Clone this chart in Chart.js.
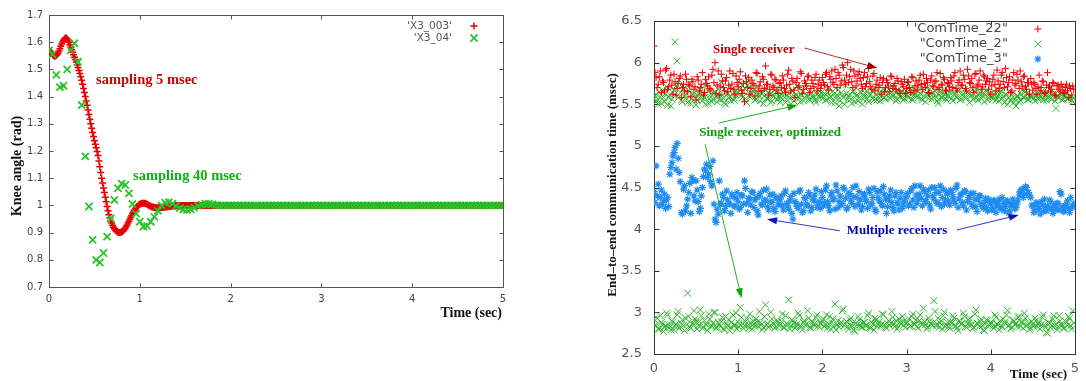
<!DOCTYPE html>
<html><head><meta charset="utf-8">
<script src="https://cdn.jsdelivr.net/npm/chart.js@4.4.1/dist/chart.umd.min.js"></script>
<style>
html,body{margin:0;padding:0;background:#fff;}
#wrap{position:relative;width:1086px;height:381px;overflow:hidden;background:#fff;}
canvas{position:absolute;top:0;}
</style>
</head><body>
<div id="wrap">
<canvas id="knee" width="540" height="330" style="left:0"></canvas>
<canvas id="comm" width="496" height="381" style="left:590px"></canvas>
</div>
<script>
// ---------------- LEFT CHART DATA (knee angle, rad) ----------------
const kneeXTicks = [0, 1, 2, 3, 4, 5];
const kneeYTicks = [0.7, 0.8, 0.9, 1, 1.1, 1.2, 1.3, 1.4, 1.5, 1.6, 1.7];
const kneeRedPeriod = 0.01;   // seconds between plotted red samples
const kneeGreenPeriod = 0.04; // 40 msec sampling
const kneeRedLabel = "'X3_003'";
const kneeGreenLabel = "'X3_04'";
const kneeRed = [
1.570,1.566,1.562,1.558,1.554,1.551,1.549,1.549,1.551,1.555,
1.560,1.568,1.576,1.585,1.593,1.601,1.607,1.612,1.615,1.615,
1.612,1.607,1.600,1.591,1.582,1.572,1.563,1.554,1.545,1.536,
1.527,1.517,1.507,1.496,1.485,1.473,1.460,1.445,1.430,1.415,
1.400,1.384,1.368,1.351,1.334,1.317,1.300,1.284,1.268,1.253,
1.238,1.225,1.212,1.198,1.183,1.163,1.142,1.121,1.100,1.082,
1.064,1.047,1.030,1.013,0.996,0.980,0.966,0.954,0.944,0.935,
0.927,0.920,0.914,0.910,0.906,0.903,0.901,0.900,0.900,0.901,
0.902,0.904,0.907,0.911,0.916,0.922,0.928,0.935,0.942,0.949,
0.956,0.963,0.970,0.976,0.982,0.987,0.992,0.996,0.999,1.002,
1.004,1.006,1.007,1.008,1.008,1.008,1.007,1.006,1.004,1.002,
1.000,0.998,0.997,0.995,0.994,0.993,0.992,0.991,0.991,0.991,
0.991,0.991,0.991,0.991,0.992,0.992,0.993,0.993,0.994,0.994,
0.995,0.995,0.996,0.996,0.997,0.997,0.998,0.998,0.998,0.999,
0.999,0.999,0.999,0.999,1.000,1.000,1.000,1.000,1.000,1.000,
1.000,
1,1,1,1,1,1,1,1,1,1, 1,1,1,1,1,1,1,1,1,1, 1,1,1,1,1,1,1,1,1,1,
1,1,1,1,1,1,1,1,1,1, 1,1,1,1,1,1,1,1,1,1, 1,1,1,1,1,1,1,1,1,1,
1,1,1,1,1,1,1,1,1,1, 1,1,1,1,1,1,1,1,1,1, 1,1,1,1,1,1,1,1,1,1,
1,1,1,1,1,1,1,1,1,1, 1,1,1,1,1,1,1,1,1,1, 1,1,1,1,1,1,1,1,1,1,
1,1,1,1,1,1,1,1,1,1, 1,1,1,1,1,1,1,1,1,1, 1,1,1,1,1,1,1,1,1,1,
1,1,1,1,1,1,1,1,1,1, 1,1,1,1,1,1,1,1,1,1, 1,1,1,1,1,1,1,1,1,1,
1,1,1,1,1,1,1,1,1,1, 1,1,1,1,1,1,1,1,1,1, 1,1,1,1,1,1,1,1,1,1,
1,1,1,1,1,1,1,1,1,1, 1,1,1,1,1,1,1,1,1,1, 1,1,1,1,1,1,1,1,1,1,
1,1,1,1,1,1,1,1,1,1, 1,1,1,1,1,1,1,1,1,1, 1,1,1,1,1,1,1,1,1,1,
1,1,1,1,1,1,1,1,1,1, 1,1,1,1,1,1,1,1,1,1, 1,1,1,1,1,1,1,1,1,1,
1,1,1,1,1,1,1,1,1,1, 1,1,1,1,1,1,1,1,1,1, 1,1,1,1,1,1,1,1,1,1,
1,1,1,1,1,1,1,1,1,1, 1,1,1,1,1,1,1,1,1,1
];
const kneeGreen = [
1.570,1.555,1.480,1.435,1.440,1.500,1.570,1.596,1.528,1.369,
1.180,0.996,0.873,0.800,0.790,0.825,0.885,0.952,1.020,1.063,
1.080,1.075,1.044,1.005,0.970,0.940,0.922,0.924,0.940,0.958,
0.980,1.000,1.010,1.012,1.006,0.998,0.990,0.985,0.984,0.986,
0.992,0.998,1.003,1.006,1.006,1.004,1.001,
1,1,1,1,1,1,1,1,1,1, 1,1,1,1,1,1,1,1,1,1, 1,1,1,1,1,1,1,1,1,1,
1,1,1,1,1,1,1,1,1,1, 1,1,1,1,1,1,1,1,1,1, 1,1,1,1,1,1,1,1,1,1,
1,1,1,1,1,1,1,1,1,1, 1,1,1,1,1,1,1,1,1
];

// ---------------- RIGHT CHART DATA (communication time, msec) ----------------
const commXTicks = [0, 1, 2, 3, 4, 5];
const commYTicks = [2.5, 3, 3.5, 4, 4.5, 5, 5.5, 6, 6.5];
const commPeriod = 0.025;      // spacing of each sample run
const commOffsetB = 0.0125;    // second run of samples, in between
const commLabels = ["'ComTime_22\"", "\"ComTime_2\"", "\"ComTime_3\""];
const comTime22 = [
6.20,5.82,5.74,5.90,5.78,5.66,5.93,5.71,5.85,5.62,5.77,5.69,5.81,5.58,5.74,5.86,5.65,5.72,5.80,5.68,
5.55,5.79,5.70,5.88,5.64,5.75,5.83,5.67,5.92,6.00,5.73,5.61,5.86,5.70,5.78,5.65,5.90,5.74,5.68,5.84,
5.71,5.89,5.63,5.53,5.77,5.82,5.69,5.75,5.60,5.87,5.72,5.66,5.80,5.96,5.74,5.68,5.85,5.70,5.79,5.63,
5.76,5.84,5.69,5.73,5.91,5.66,5.78,5.58,5.81,5.72,5.87,5.68,5.75,5.83,5.64,5.79,5.71,5.86,5.74,5.69,
5.82,5.73,5.88,5.67,5.80,5.76,5.92,5.70,5.85,5.78,5.94,5.74,6.00,5.83,5.77,5.90,5.72,5.86,5.81,5.69,
5.88,5.75,5.93,5.71,5.84,5.66,5.79,5.73,5.62,5.81,5.70,5.76,5.65,5.83,5.72,5.68,5.78,5.63,5.74,5.80,
5.69,5.77,5.64,5.82,5.72,5.67,5.79,5.74,5.86,5.70,5.76,5.63,5.84,5.71,5.78,5.68,5.87,5.73,5.80,5.66,
5.75,5.82,5.70,5.88,5.66,5.79,5.73,5.85,5.69,5.92,5.76,5.81,5.64,5.87,5.74,5.90,5.71,5.83,5.78,5.68,
5.62,5.80,5.74,5.91,5.69,5.85,5.77,5.93,5.71,5.83,5.66,5.88,5.75,5.79,5.90,5.72,5.84,5.68,5.76,5.81,
5.67,5.74,5.62,5.85,5.70,5.77,5.64,5.88,5.72,5.68,5.75,5.60,5.73,5.66,5.71,5.63,5.74,5.58,5.69,5.72
];
const comTime22B = [
5.88,5.70,5.83,5.64,5.76,5.91,5.68,5.79,5.73,5.86,5.61,5.75,5.84,5.70,5.66,5.80,5.74,5.59,5.77,5.71,
5.83,5.66,5.74,5.61,5.80,5.72,5.69,5.85,5.76,5.63,5.90,5.71,5.78,5.66,5.82,5.73,5.69,5.87,5.62,5.76,
5.80,5.67,5.75,5.84,5.70,5.62,5.79,5.73,5.88,5.66,5.77,5.83,5.69,5.74,5.61,5.86,5.72,5.80,5.67,5.75,
5.70,5.79,5.64,5.86,5.74,5.81,5.67,5.76,5.70,5.89,5.63,5.78,5.72,5.84,5.69,5.75,5.82,5.66,5.79,5.73,
5.76,5.86,5.71,5.83,5.90,5.74,5.81,5.88,5.73,5.97,5.79,5.85,5.76,5.92,5.70,5.84,5.78,5.89,5.74,5.82,
5.71,5.83,5.77,5.68,5.87,5.74,5.70,5.82,5.76,5.65,5.79,5.72,5.84,5.69,5.75,5.81,5.66,5.77,5.71,5.63,
5.76,5.70,5.83,5.66,5.78,5.73,5.85,5.68,5.75,5.81,5.64,5.79,5.72,5.77,5.88,5.70,5.74,5.82,5.67,5.76,
5.71,5.78,5.84,5.69,5.76,5.90,5.73,5.80,5.66,5.84,5.75,5.70,5.86,5.72,5.79,5.68,5.85,5.74,5.81,5.77,
5.72,5.85,5.66,5.78,5.74,5.88,5.70,5.82,5.76,5.64,5.79,5.73,5.86,5.69,5.77,5.83,5.71,5.76,5.62,5.74,
5.76,5.69,5.71,5.66,5.78,5.63,5.73,5.70,5.65,5.76,5.61,5.72,5.68,5.74,5.64,5.70,5.66,5.72,5.61,5.68
];
const comTime2Upper = [
5.56,5.62,5.50,5.59,5.66,5.53,5.71,5.58,5.48,5.64,6.25,6.02,5.79,5.55,5.69,5.61,5.52,5.74,5.57,5.63,
5.49,5.60,5.67,5.54,5.58,5.72,5.51,5.62,5.56,5.65,5.53,5.60,5.77,5.57,5.50,5.63,5.59,5.68,5.55,5.61,
5.64,5.75,5.58,5.69,5.52,5.78,5.61,5.66,5.55,5.70,5.59,5.63,5.51,5.67,5.57,5.62,5.54,5.60,5.65,5.58,
5.53,5.61,5.68,5.56,5.63,5.50,5.66,5.59,5.72,5.57,5.62,5.54,5.69,5.60,5.55,5.64,5.58,5.52,5.67,5.61,
5.57,5.63,5.55,5.70,5.59,5.66,5.52,5.61,5.48,5.64,5.58,5.73,5.56,5.62,5.51,5.67,5.60,5.54,5.65,5.50,
5.59,5.66,5.53,5.62,5.57,5.70,5.55,5.64,5.60,5.68,5.56,5.63,5.58,5.72,5.61,5.54,5.67,5.59,5.65,5.57,
5.62,5.58,5.69,5.55,5.64,5.60,5.73,5.57,5.66,5.53,5.61,5.68,5.56,5.63,5.59,5.51,5.65,5.58,5.62,5.55,
5.60,5.67,5.54,5.63,5.58,5.70,5.56,5.62,5.59,5.65,5.52,5.61,5.57,5.68,5.55,5.64,5.60,5.53,5.66,5.58,
5.63,5.56,5.61,5.69,5.54,5.66,5.59,5.62,5.50,5.64,5.57,5.52,5.48,5.60,5.55,5.67,5.58,5.63,5.56,5.61,
5.59,5.54,5.62,5.57,5.65,5.55,5.60,5.58,5.63,5.56,5.61,5.45,5.58,5.62,5.55,5.59,5.64,5.57,5.60,5.53
];
const comTime2UpperB = [
5.60,5.54,5.65,5.51,5.58,5.63,5.49,5.61,5.56,5.67,5.72,5.58,5.64,5.53,5.60,5.56,5.66,5.51,5.62,5.58,
5.55,5.64,5.58,5.61,5.50,5.66,5.57,5.53,5.63,5.59,5.68,5.55,5.61,5.52,5.65,5.58,5.54,5.62,5.57,5.64,
5.70,5.61,5.66,5.57,5.73,5.59,5.63,5.68,5.56,5.62,5.54,5.66,5.60,5.57,5.64,5.52,5.61,5.67,5.55,5.60,
5.58,5.64,5.52,5.60,5.57,5.66,5.54,5.62,5.59,5.53,5.65,5.58,5.61,5.56,5.63,5.60,5.55,5.62,5.58,5.64,
5.61,5.55,5.64,5.58,5.52,5.62,5.57,5.67,5.54,5.60,5.50,5.63,5.59,5.56,5.65,5.53,5.61,5.58,5.64,5.56,
5.63,5.57,5.61,5.66,5.55,5.62,5.59,5.54,5.64,5.58,5.61,5.68,5.57,5.60,5.65,5.56,5.62,5.58,5.55,5.63,
5.59,5.65,5.56,5.61,5.67,5.58,5.63,5.55,5.60,5.70,5.57,5.62,5.59,5.66,5.54,5.61,5.58,5.64,5.57,5.60,
5.64,5.57,5.62,5.59,5.66,5.55,5.61,5.68,5.58,5.63,5.60,5.56,5.65,5.59,5.62,5.57,5.64,5.61,5.55,5.62,
5.58,5.62,5.55,5.60,5.64,5.57,5.52,5.61,5.58,5.54,5.63,5.56,5.60,5.53,5.62,5.58,5.65,5.56,5.61,5.59,
5.57,5.61,5.56,5.60,5.58,5.63,5.55,5.59,5.57,5.62,5.54,5.60,5.58,5.64,5.56,5.61,5.57,5.59,5.55,5.58
];
const comTime2Lower = [
2.92,2.84,2.80,2.96,2.86,2.82,2.99,2.85,2.79,2.88,2.83,2.97,2.81,2.87,2.84,2.93,3.23,2.82,2.86,3.02,
2.88,2.84,3.03,2.81,2.90,2.85,2.98,2.83,2.87,3.00,2.82,2.86,2.89,2.80,2.95,2.84,2.78,2.88,2.85,2.99,
2.83,3.06,2.87,2.84,2.93,2.81,2.86,2.90,2.83,2.88,3.01,2.85,2.82,3.09,2.87,2.84,2.92,2.86,2.83,2.89,
2.85,2.98,2.82,2.87,3.15,2.84,2.90,2.81,2.86,2.96,2.83,2.88,2.85,3.02,2.82,2.89,2.86,2.94,2.84,2.87,
2.90,2.83,2.97,2.86,2.80,2.92,3.10,2.85,2.82,2.88,3.04,2.86,2.83,2.91,2.84,2.79,2.87,2.95,2.85,2.82,
2.88,2.84,2.99,2.81,2.86,2.93,2.83,2.89,2.85,2.97,2.82,2.87,2.84,3.01,2.86,2.90,2.83,2.88,2.95,2.85,
2.87,2.92,2.84,2.98,2.86,2.83,2.90,2.88,3.05,2.85,2.82,2.89,2.86,3.14,2.84,2.93,2.87,2.80,3.00,2.85,
2.83,2.88,2.96,2.84,2.81,2.90,2.86,2.99,2.83,2.87,2.93,2.85,2.82,3.03,2.86,2.89,2.84,2.78,2.91,2.85,
2.88,2.83,2.97,2.86,2.79,2.84,2.92,2.87,3.02,2.85,2.82,2.89,2.86,2.94,2.83,2.88,2.99,2.84,2.87,2.81,
2.86,2.93,2.83,2.88,2.85,2.97,2.82,2.75,2.87,2.84,2.96,2.86,2.83,2.90,2.85,2.81,2.88,2.95,2.84,3.02
];
const comTime2LowerB = [
2.85,2.93,2.80,2.88,2.77,2.84,2.97,2.82,2.90,2.79,2.86,3.01,2.83,2.91,2.78,2.85,2.95,2.81,2.87,2.92,
2.80,2.89,2.96,2.82,2.86,2.78,2.92,2.84,3.00,2.81,2.88,2.83,2.94,2.79,2.86,2.91,2.82,2.97,2.85,2.80,
2.87,2.94,2.81,2.89,2.84,2.98,2.80,2.86,2.92,2.83,2.88,2.79,2.95,2.85,2.82,3.00,2.87,2.81,2.90,2.84,
2.89,2.82,2.96,2.85,2.80,2.91,2.87,2.83,2.99,2.84,2.79,2.90,2.86,2.93,2.81,2.88,2.84,2.97,2.82,2.87,
2.92,2.85,2.81,2.95,2.88,2.83,2.79,2.90,2.86,3.02,2.84,2.89,2.80,2.93,2.87,2.77,2.85,2.91,2.82,2.88,
2.84,2.96,2.82,2.88,2.79,2.91,2.86,2.83,2.98,2.85,2.81,2.90,2.87,2.94,2.83,2.80,2.92,2.86,2.89,2.82,
2.88,2.83,2.95,2.86,2.91,2.81,2.97,2.85,2.89,2.80,2.93,2.87,2.84,3.01,2.86,2.82,2.90,2.96,2.83,2.88,
2.81,2.87,2.93,2.84,2.78,2.89,2.86,2.95,2.82,2.91,2.85,2.80,2.98,2.87,2.83,2.92,2.79,2.86,2.90,2.84,
2.87,2.81,2.94,2.85,2.90,2.82,2.88,2.97,2.84,2.80,2.91,2.86,2.83,2.95,2.88,2.81,2.93,2.85,2.79,2.89,
2.83,2.90,2.86,2.80,2.94,2.85,2.76,2.88,2.82,2.92,2.84,2.79,2.96,2.86,2.81,2.89,2.84,2.93,2.80,2.87
];
const comTime3 = [
4.45,4.76,4.54,4.38,4.30,4.42,4.35,4.27,4.74,4.88,4.98,5.03,4.68,4.20,4.48,4.22,4.36,4.55,4.62,4.40,
4.58,4.33,4.25,4.50,4.72,4.78,4.66,4.57,4.82,4.12,4.24,4.58,4.31,4.38,4.27,4.35,4.30,4.42,4.28,4.37,
4.33,4.26,4.40,4.58,4.31,4.37,4.29,4.44,4.35,4.22,4.39,4.30,4.47,4.34,4.27,4.41,4.32,4.25,4.38,4.29,
4.36,4.28,4.43,4.31,4.24,4.39,4.12,4.33,4.27,4.45,4.30,4.22,4.37,4.29,4.41,4.26,4.34,4.48,4.30,4.25,
4.38,4.32,4.52,4.28,4.41,4.35,4.24,4.46,4.33,4.29,4.50,4.37,4.26,4.43,4.31,4.39,4.52,4.30,4.35,4.27,
4.42,4.33,4.48,4.29,4.38,4.24,4.45,4.34,4.31,4.51,4.36,4.27,4.40,4.32,4.22,4.44,4.30,4.37,4.25,4.33,
4.39,4.28,4.46,4.35,4.52,4.31,4.42,4.37,4.48,4.33,4.40,4.29,4.50,4.36,4.44,4.32,4.52,4.38,4.30,4.45,
4.34,4.47,4.39,4.31,4.53,4.36,4.42,4.28,4.45,4.33,4.38,4.30,4.43,4.27,4.35,4.40,4.29,4.32,4.26,4.36,
4.30,4.25,4.33,4.28,4.36,4.24,4.31,4.27,4.34,4.22,4.29,4.32,4.26,4.35,4.45,4.48,4.42,4.50,4.44,4.38,
4.27,4.22,4.30,4.25,4.33,4.21,4.28,4.26,4.35,4.24,4.29,4.23,4.31,4.45,4.27,4.22,4.30,4.25,4.38,4.26
];
const comTime3B = [
4.32,4.40,4.28,4.47,4.34,4.25,4.38,4.66,4.80,4.92,4.72,4.85,4.57,4.18,4.52,4.28,4.44,4.19,4.58,4.34,
4.47,4.21,4.40,4.63,4.70,4.62,4.75,4.52,4.30,4.08,4.18,4.30,4.42,4.22,4.46,4.31,4.19,4.39,4.27,4.44,
4.24,4.41,4.30,4.49,4.20,4.36,4.45,4.26,4.38,4.17,4.43,4.29,4.35,4.48,4.23,4.33,4.42,4.21,4.37,4.31,
4.40,4.23,4.46,4.28,4.34,4.19,4.43,4.31,4.25,4.47,4.20,4.38,4.29,4.44,4.22,4.36,4.41,4.26,4.33,4.45,
4.28,4.47,4.33,4.22,4.44,4.37,4.53,4.26,4.40,4.31,4.48,4.24,4.42,4.35,4.50,4.27,4.38,4.45,4.23,4.41,
4.36,4.25,4.44,4.31,4.49,4.21,4.38,4.46,4.28,4.42,4.19,4.35,4.47,4.26,4.40,4.32,4.23,4.44,4.29,4.37,
4.43,4.30,4.49,4.26,4.41,4.36,4.52,4.28,4.45,4.33,4.47,4.24,4.40,4.50,4.31,4.44,4.27,4.48,4.35,4.42,
4.29,4.44,4.35,4.49,4.26,4.41,4.32,4.46,4.23,4.38,4.43,4.27,4.36,4.21,4.40,4.30,4.25,4.37,4.22,4.33,
4.23,4.35,4.20,4.31,4.26,4.38,4.22,4.33,4.19,4.29,4.36,4.24,4.30,4.41,4.47,4.38,4.51,4.44,4.40,4.29,
4.20,4.32,4.24,4.18,4.29,4.36,4.22,4.27,4.33,4.19,4.26,4.31,4.23,4.42,4.21,4.28,4.34,4.20,4.27,4.31
];

// ---------------- helpers ----------------
function samples(values, period, offset) {
  const o = offset || 0;
  return values.map((v, i) => ({ x: Math.round((o + i * period) * 10000) / 10000, y: v }));
}
function fixedTicks(list) { return scale => { scale.ticks = list.map(v => ({ value: v })); }; }

function markerAt(ctx, style, r, bw, x, y) {
  if (Chart.helpers && Chart.helpers.drawPoint) {
    Chart.helpers.drawPoint(ctx, { pointStyle: style, radius: r, rotation: 0, borderWidth: bw }, x, y);
    return;
  }
  const d = r * Math.SQRT1_2;
  ctx.beginPath();
  if (style === 'cross' || style === 'star') { ctx.moveTo(x - r, y); ctx.lineTo(x + r, y); ctx.moveTo(x, y - r); ctx.lineTo(x, y + r); }
  if (style === 'crossRot' || style === 'star') { ctx.moveTo(x - d, y - d); ctx.lineTo(x + d, y + d); ctx.moveTo(x - d, y + d); ctx.lineTo(x + d, y - d); }
  ctx.stroke();
}

const gnuplotLook = {
  id: 'gnuplotLook',
  beforeDatasetsDraw(chart, args, o) {
    const ctx = chart.ctx, a = chart.chartArea;
    const xs = chart.scales.x, ys = chart.scales.y, k = o.tickLen;
    const L = Math.round(a.left) + 0.5, R = Math.round(a.right) + 0.5;
    const T = Math.round(a.top) + 0.5, B = Math.round(a.bottom) + 0.5;
    ctx.save();
    ctx.strokeStyle = o.frameColor; ctx.lineWidth = 1;
    ctx.strokeRect(L, T, R - L, B - T);
    ctx.beginPath();
    xs.ticks.forEach(t => {
      const p = Math.round(xs.getPixelForValue(t.value)) + 0.5;
      ctx.moveTo(p, B); ctx.lineTo(p, B - k); ctx.moveTo(p, T); ctx.lineTo(p, T + k);
    });
    ys.ticks.forEach(t => {
      const p = Math.round(ys.getPixelForValue(t.value)) + 0.5;
      ctx.moveTo(L, p); ctx.lineTo(L + k, p); ctx.moveTo(R, p); ctx.lineTo(R - k, p);
    });
    ctx.stroke();
    ctx.restore();
  },
  afterDatasetsDraw(chart, args, o) {
    const ctx = chart.ctx, a = chart.chartArea;
    const xs = chart.scales.x, ys = chart.scales.y;
    ctx.save();
    const lg = o.legend;
    ctx.font = lg.font; ctx.textAlign = 'right'; ctx.textBaseline = 'middle';
    lg.order.forEach((di, row) => {
      const ds = chart.data.datasets[di];
      const y = a.top + lg.dy0 + row * lg.dy;
      ctx.fillStyle = lg.color;
      ctx.fillText(ds.label, a.right + lg.textDx, y);
      ctx.strokeStyle = ds.borderColor; ctx.fillStyle = ds.borderColor; ctx.lineWidth = ds.pointBorderWidth;
      markerAt(ctx, ds.pointStyle, ds.pointRadius, ds.pointBorderWidth, a.right + lg.markDx, y);
    });
    (o.arrows || []).forEach(ar => {
      const x1 = xs.getPixelForValue(ar.from[0]), y1 = ys.getPixelForValue(ar.from[1]);
      const x2 = xs.getPixelForValue(ar.to[0]), y2 = ys.getPixelForValue(ar.to[1]);
      const ang = Math.atan2(y2 - y1, x2 - x1), hl = 10, hw = 3.5;
      ctx.strokeStyle = ar.color; ctx.lineWidth = 1;
      ctx.beginPath(); ctx.moveTo(x1, y1);
      ctx.lineTo(x2 - Math.cos(ang) * hl * 0.8, y2 - Math.sin(ang) * hl * 0.8); ctx.stroke();
      ctx.fillStyle = ar.head;
      ctx.beginPath(); ctx.moveTo(x2, y2);
      ctx.lineTo(x2 - Math.cos(ang) * hl - Math.sin(ang) * hw, y2 - Math.sin(ang) * hl + Math.cos(ang) * hw);
      ctx.lineTo(x2 - Math.cos(ang) * hl + Math.sin(ang) * hw, y2 - Math.sin(ang) * hl - Math.cos(ang) * hw);
      ctx.closePath(); ctx.fill();
    });
    (o.notes || []).forEach(n => {
      ctx.font = n.font; ctx.fillStyle = n.color; ctx.textAlign = 'left'; ctx.textBaseline = 'middle';
      ctx.fillText(n.text, xs.getPixelForValue(n.x), ys.getPixelForValue(n.y));
    });
    (o.titles || []).forEach(t => {
      ctx.save();
      ctx.translate(t.x, t.y); ctx.rotate(t.rot || 0);
      ctx.font = t.font; ctx.fillStyle = t.color; ctx.textAlign = t.align || 'center'; ctx.textBaseline = 'middle';
      ctx.fillText(t.text, 0, 0);
      ctx.restore();
    });
    ctx.restore();
  }
};

const baseOpts = { responsive: false, devicePixelRatio: 1, animation: false };

// ---------------- LEFT CHART ----------------
new Chart(document.getElementById('knee'), {
  type: 'scatter',
  data: {
    datasets: [
      { label: kneeRedLabel, data: samples(kneeRed, kneeRedPeriod), order: 1,
        pointStyle: 'cross', pointRadius: 3.5, pointBorderWidth: 1.5, borderColor: '#e80000', backgroundColor: '#e80000' },
      { label: kneeGreenLabel, data: samples(kneeGreen, kneeGreenPeriod), order: 0,
        pointStyle: 'crossRot', pointRadius: 5, pointBorderWidth: 1.8, borderColor: '#2ac42a', backgroundColor: '#2ac42a' }
    ]
  },
  options: Object.assign({}, baseOpts, {
    layout: { padding: { left: 0, right: 37, top: 15, bottom: 0 } },
    scales: {
      x: { type: 'linear', min: 0, max: 5, afterBuildTicks: fixedTicks(kneeXTicks),
           afterFit: s => { s.height = 43; },
           grid: { display: false, drawTicks: false }, border: { display: false },
           ticks: { font: { family: 'DejaVu Sans', size: 10 }, color: '#444', padding: 6, maxRotation: 0, autoSkip: false, callback: v => String(v) } },
      y: { type: 'linear', min: 0.7, max: 1.7, afterBuildTicks: fixedTicks(kneeYTicks),
           afterFit: s => { s.width = 49; },
           grid: { display: false, drawTicks: false }, border: { display: false },
           ticks: { font: { family: 'DejaVu Sans', size: 10 }, color: '#444', padding: 6, autoSkip: false, callback: v => String(v) } }
    },
    plugins: {
      legend: { display: false }, tooltip: { enabled: false },
      gnuplotLook: {
        frameColor: '#555', tickLen: 4,
        legend: { font: '10.5px "DejaVu Sans"', color: '#555', order: [0, 1], dy0: 11, dy: 12, textDx: -51, markDx: -29 },
        notes: [
          { text: 'sampling 5 msec', x: 0.518, y: 1.461, color: '#d00000', font: 'bold 14.5px "Liberation Serif"' },
          { text: 'sampling 40 msec', x: 0.925, y: 1.108, color: '#12b012', font: 'bold 14.5px "Liberation Serif"' }
        ],
        titles: [
          { text: 'Knee angle (rad)', x: 17, y: 166, rot: -Math.PI / 2, font: 'bold 14px "Liberation Serif"', color: '#111' },
          { text: 'Time (sec)', x: 502, y: 313, align: 'right', font: 'bold 14px "Liberation Serif"', color: '#111' }
        ]
      }
    }
  }),
  plugins: [gnuplotLook]
});

// ---------------- RIGHT CHART ----------------
new Chart(document.getElementById('comm'), {
  type: 'scatter',
  data: {
    datasets: [
      { label: commLabels[0], data: samples(comTime22, commPeriod).concat(samples(comTime22B, commPeriod, commOffsetB)), order: 0,
        pointStyle: 'cross', pointRadius: 3.5, pointBorderWidth: 1, borderColor: '#ee0000', backgroundColor: '#ee0000' },
      { label: commLabels[1], data: samples(comTime2Upper, commPeriod).concat(samples(comTime2UpperB, commPeriod, commOffsetB),
          samples(comTime2Lower, commPeriod), samples(comTime2LowerB, commPeriod, commOffsetB)), order: 1,
        pointStyle: 'crossRot', pointRadius: 4.8, pointBorderWidth: 1, borderColor: '#2cb52c', backgroundColor: '#2cb52c' },
      { label: commLabels[2], data: samples(comTime3, commPeriod).concat(samples(comTime3B, commPeriod, commOffsetB)), order: 2,
        pointStyle: 'star', pointRadius: 3.6, pointBorderWidth: 1.2, borderColor: '#1e8cf0', backgroundColor: '#1e8cf0' }
    ]
  },
  options: Object.assign({}, baseOpts, {
    layout: { padding: { left: 0, right: 4, top: 21, bottom: 0 } },
    scales: {
      x: { type: 'linear', min: 0, max: 5, afterBuildTicks: fixedTicks(commXTicks),
           afterFit: s => { s.height = 27; },
           grid: { display: false, drawTicks: false }, border: { display: false },
           ticks: { font: { family: 'DejaVu Sans', size: 13 }, color: '#555', padding: 7, maxRotation: 0, autoSkip: false, callback: v => String(v) } },
      y: { type: 'linear', min: 2.5, max: 6.5, afterBuildTicks: fixedTicks(commYTicks),
           afterFit: s => { s.width = 64; },
           grid: { display: false, drawTicks: false }, border: { display: false },
           ticks: { font: { family: 'DejaVu Sans', size: 13 }, color: '#555', padding: 12, autoSkip: false, callback: v => String(v) } }
    },
    plugins: {
      legend: { display: false }, tooltip: { enabled: false },
      gnuplotLook: {
        frameColor: '#333', tickLen: 5,
        legend: { font: '13px "DejaVu Sans"', color: '#444', order: [0, 1, 2], dy0: 8, dy: 15, textDx: -67, markDx: -37 },
        arrows: [
          { from: [1.787, 6.176], to: [2.652, 5.935], color: '#b03030', head: '#8b0000' },
          { from: [0.771, 5.275], to: [1.706, 5.49], color: '#22b022', head: '#10a010' },
          { from: [0.607, 5.02], to: [1.04, 3.17], color: '#22b022', head: '#10a010' },
          { from: [2.208, 3.98], to: [1.343, 4.12], color: '#3030d8', head: '#1010c0' },
          { from: [3.598, 3.99], to: [4.334, 4.17], color: '#3030d8', head: '#1010c0' }
        ],
        notes: [
          { text: 'Single receiver', x: 0.70, y: 6.16, color: '#c00000', font: 'bold 13px "Liberation Serif"' },
          { text: 'Single receiver, optimized', x: 0.537, y: 5.155, color: '#08a008', font: 'bold 13px "Liberation Serif"' },
          { text: 'Multiple receivers', x: 2.29, y: 3.98, color: '#0000c0', font: 'bold 13px "Liberation Serif"' }
        ],
        titles: [
          { text: 'End–to–end communication time (msec)', x: 23, y: 185, rot: -Math.PI / 2, font: 'bold 13px "Liberation Serif"', color: '#111' },
          { text: 'Time (sec)', x: 477, y: 375, align: 'right', font: 'bold 13px "Liberation Serif"', color: '#111' }
        ]
      }
    }
  }),
  plugins: [gnuplotLook]
});
</script>
</body></html>
